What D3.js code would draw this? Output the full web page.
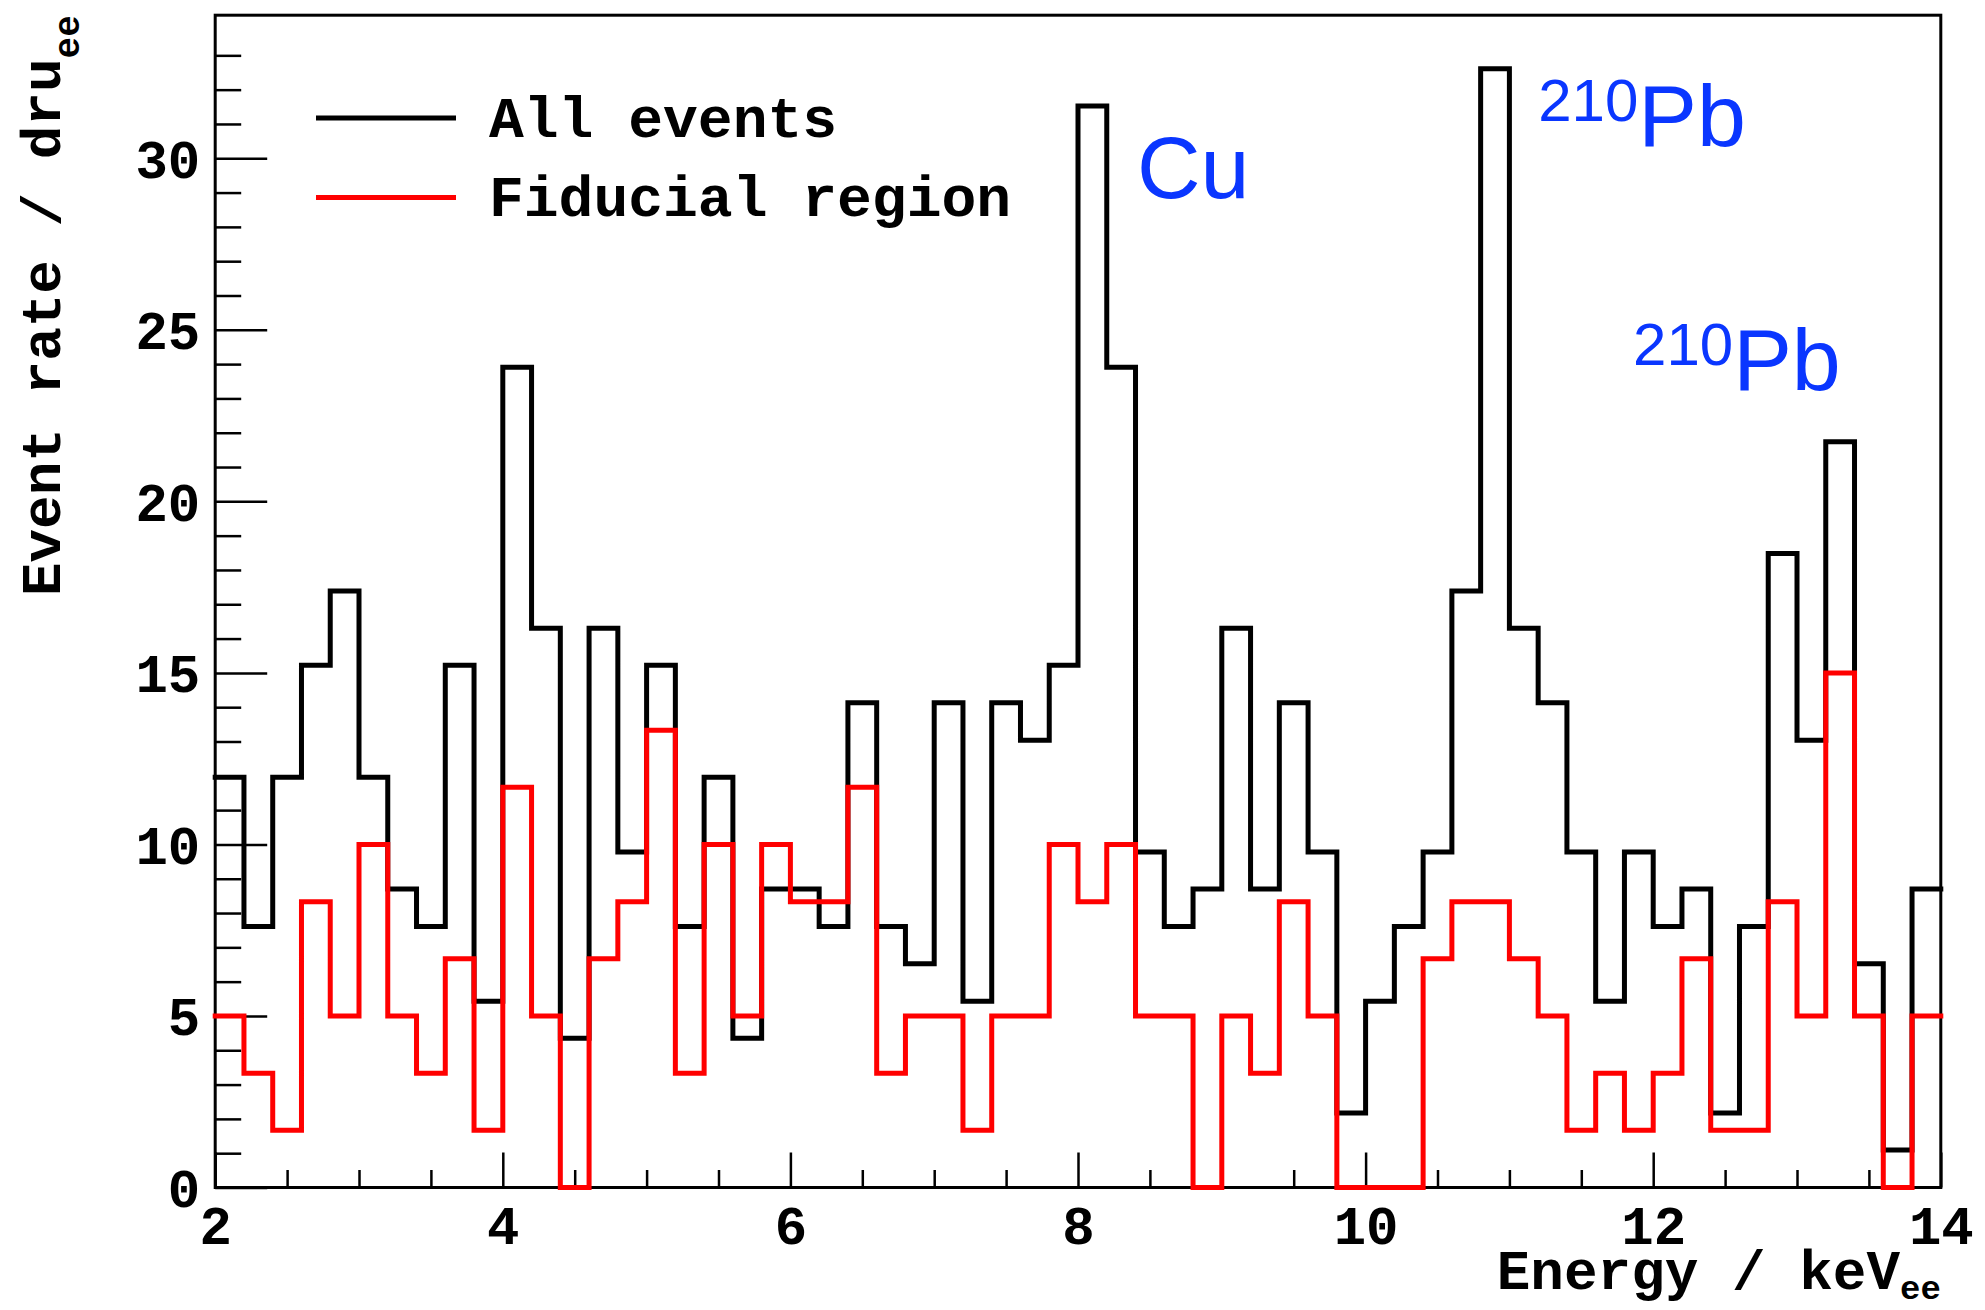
<!DOCTYPE html>
<html>
<head>
<meta charset="utf-8">
<script src="https://cdn.jsdelivr.net/npm/d3@7"></script>
<style>
  html, body { margin: 0; padding: 0; background: #fff; }
  svg { display: block; }
</style>
</head>
<body>
<svg id="chart" width="1985" height="1310"></svg>
<script>
// ---------------- data ----------------
const xMin = 2, xMax = 14, binWidth = 0.2;
const xMajorTicks = [2, 4, 6, 8, 10, 12, 14];
const yMajorTicks = [0, 5, 10, 15, 20, 25, 30];
const allEvents = [11.96, 7.61, 11.96, 15.22, 17.39, 11.96, 8.70, 7.61, 15.22, 5.43,
  23.91, 16.30, 4.35, 16.30, 9.78, 15.22, 7.61, 11.96, 4.35, 8.70,
  8.70, 7.61, 14.13, 7.61, 6.52, 14.13, 5.43, 14.13, 13.04, 15.22,
  31.52, 23.91, 9.78, 7.61, 8.70, 16.30, 8.70, 14.13, 9.78, 2.17,
  5.43, 7.61, 9.78, 17.39, 32.61, 16.30, 14.13, 9.78, 5.43, 9.78,
  7.61, 8.70, 2.17, 7.61, 18.48, 13.04, 21.74, 6.52, 1.09, 8.70];
const fiducial = [5, 3.33, 1.67, 8.33, 5, 10, 5, 3.33, 6.67, 1.67,
  11.67, 5, 0, 6.67, 8.33, 13.33, 3.33, 10, 5, 10,
  8.33, 8.33, 11.67, 3.33, 5, 5, 1.67, 5, 5, 10,
  8.33, 10, 5, 5, 0, 5, 3.33, 8.33, 5, 0,
  0, 0, 6.67, 8.33, 8.33, 6.67, 5, 1.67, 3.33, 1.67,
  3.33, 6.67, 1.67, 1.67, 8.33, 5, 15, 5, 0, 5];
const seriesNames = ["All events", "Fiducial region"];
const seriesColors = ["#000000", "#ff0000"];
const annotations = [
  { sup: "", main: "Cu", x: 8.41, y: 28.85 },
  { sup: "210", main: "Pb", x: 11.2, y: 30.35 },
  { sup: "210", main: "Pb", x: 11.86, y: 23.25 }
];

// ---------------- layout ----------------
const svg = d3.select("#chart");
const L = 215.2, R = 1940.8, T = 15.2, B = 1187.5;
const x = d3.scaleLinear().domain([xMin, xMax]).range([L, R]);
const y = d3.scaleLinear().domain([0, 34.17]).range([B, T]);
const monoFont = "'Liberation Mono', 'Courier New', monospace";
const sansFont = "'Liberation Sans', Arial, Helvetica, sans-serif";
const fsTick = 54, fsTitle = 56, fsLegend = 58;

// frame
svg.append("rect").attr("x", L).attr("y", T).attr("width", R - L).attr("height", B - T)
  .attr("fill", "none").attr("stroke", "#000").attr("stroke-width", 3);

// x minor ticks
const xMinor = d3.range(xMin, xMax + 0.001, 0.5).filter(v => Math.abs(v / 2 - Math.round(v / 2)) > 1e-6);
svg.append("g").attr("transform", `translate(0,${B})`)
  .call(d3.axisBottom(x).tickValues(xMinor).tickSize(-17.5).tickFormat(""))
  .call(g => g.select(".domain").remove())
  .call(g => g.selectAll("line").attr("stroke-width", 2.5));
// x major ticks + labels
svg.append("g").attr("transform", `translate(0,${B})`)
  .call(d3.axisBottom(x).tickValues(xMajorTicks).tickSize(-35).tickPadding(18).tickFormat(d3.format("d")))
  .call(g => g.select(".domain").remove())
  .call(g => g.selectAll("line").attr("stroke-width", 2.5))
  .call(g => g.selectAll("text").attr("font-family", monoFont).attr("font-weight", "bold")
    .attr("font-size", fsTick).attr("fill", "#000").attr("dy", "0.71em"));

// y minor ticks
const yMinor = d3.range(0, 34, 1).filter(v => v % 5 !== 0);
svg.append("g").attr("transform", `translate(${L},0)`)
  .call(d3.axisLeft(y).tickValues(yMinor).tickSize(-26).tickFormat(""))
  .call(g => g.select(".domain").remove())
  .call(g => g.selectAll("line").attr("stroke-width", 2.5));
svg.append("g").attr("transform", `translate(${L},0)`)
  .call(d3.axisLeft(y).tickValues(yMajorTicks).tickSize(-52).tickPadding(15).tickFormat(d3.format("d")))
  .call(g => g.select(".domain").remove())
  .call(g => g.selectAll("line").attr("stroke-width", 2.5))
  .call(g => g.selectAll("text").attr("font-family", monoFont).attr("font-weight", "bold")
    .attr("font-size", fsTick).attr("fill", "#000").attr("dy", "0.35em"));

// histograms (step lines)
const step = d3.line().x(d => x(d[0])).y(d => y(d[1])).curve(d3.curveStepAfter);
function histPoints(vals) {
  const pts = vals.map((v, i) => [xMin + i * binWidth, v]);
  pts.push([xMax, vals[vals.length - 1]]);
  return pts;
}
[allEvents, fiducial].forEach((vals, k) => {
  svg.append("path").attr("d", step(histPoints(vals)))
    .attr("fill", "none").attr("stroke", seriesColors[k]).attr("stroke-width", 5)
    .attr("stroke-linejoin", "miter").attr("stroke-linecap", "square");
});

// axis titles
const xt = svg.append("text").attr("x", R).attr("y", 1289).attr("text-anchor", "end")
  .attr("font-family", monoFont).attr("font-weight", "bold").attr("font-size", fsTitle);
xt.append("tspan").text("Energy / keV");
xt.append("tspan").attr("font-size", 34).attr("dy", 10).text("ee");

const yt = svg.append("text").attr("transform", `translate(60,${T}) rotate(-90)`)
  .attr("text-anchor", "end")
  .attr("font-family", monoFont).attr("font-weight", "bold").attr("font-size", fsTitle);
yt.append("tspan").text("Event rate / dru");
yt.append("tspan").attr("font-size", 36).attr("dy", 19).text("ee");

// legend
seriesNames.forEach((name, i) => {
  const cy = 118 + i * 79.5;
  svg.append("line").attr("x1", 316).attr("x2", 456).attr("y1", cy).attr("y2", cy)
    .attr("stroke", seriesColors[i]).attr("stroke-width", 5);
  svg.append("text").attr("x", 489).attr("y", cy).attr("dy", "0.32em")
    .attr("font-family", monoFont).attr("font-weight", "bold").attr("font-size", fsLegend)
    .attr("fill", "#000").text(name);
});

// annotations
annotations.forEach(a => {
  const t = svg.append("text").attr("x", x(a.x)).attr("y", y(a.y))
    .attr("font-family", sansFont).attr("font-size", 88).attr("fill", "#0a36ff");
  if (a.sup) {
    t.append("tspan").attr("font-size", 60).attr("dy", -25).text(a.sup);
    t.append("tspan").attr("dy", 25).text(a.main);
  } else {
    t.append("tspan").text(a.main);
  }
});
</script>
</body>
</html>
